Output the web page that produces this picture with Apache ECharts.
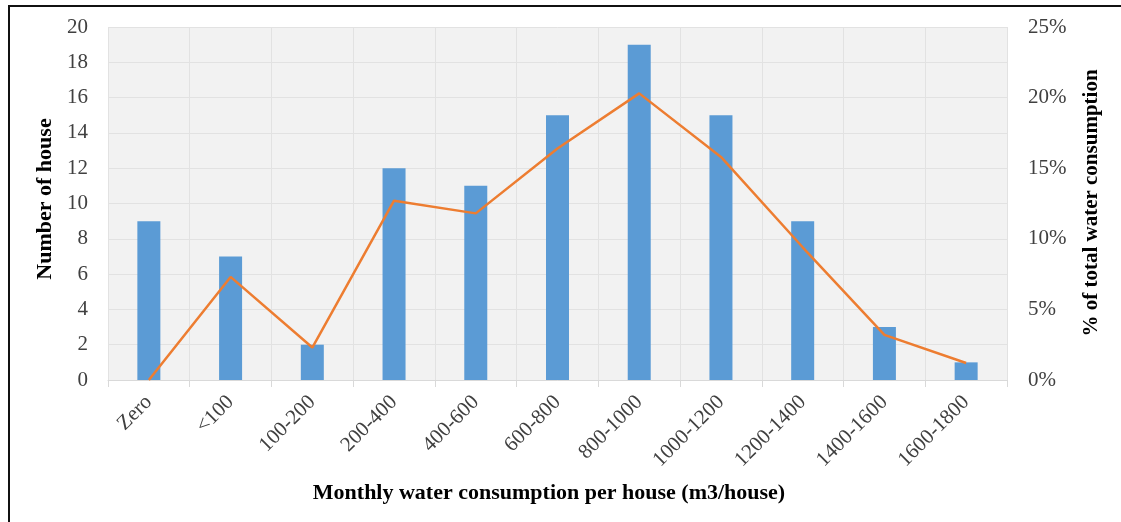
<!DOCTYPE html>
<html>
<head>
<meta charset="utf-8">
<script src="https://cdn.jsdelivr.net/npm/echarts@6/dist/echarts.min.js"></script>
<style>
  html, body { margin: 0; padding: 0; background: #fff; }
  #chart { width: 1121px; height: 522px; }
</style>
</head>
<body>
<div id="chart"></div>
<script>
// 月用水量分布
const categories = ['Zero', '<100', '100-200', '200-400', '400-600', '600-800',
    '800-1000', '1000-1200', '1200-1400', '1400-1600', '1600-1800'];
const houseCounts = [9, 7, 2, 12, 11, 15, 19, 15, 9, 3, 1];
const consumptionShare = [0, 7.3, 2.3, 12.7, 11.8, 16.4, 20.3, 15.8, 9.4, 3.2, 1.2];
const leftTicks = { min: 0, max: 20, interval: 2 };
const rightTicks = { min: 0, max: 25, interval: 5 };

const fontFamily = '"Liberation Serif", "Times New Roman", serif';

const chart = echarts.init(document.getElementById('chart'));

const option = {
    backgroundColor: '#ffffff',
    animation: false,
    grid: {
        left: 108,
        right: 114,
        top: 27,
        bottom: 142,
        show: true,
        backgroundColor: '#f2f2f2',
        borderWidth: 0
    },
    graphic: [
        {
            type: 'rect',
            shape: { x: 9, y: 6, width: 1200, height: 600 },
            style: { fill: 'none', stroke: '#111', lineWidth: 2 },
            silent: true
        },
        {
            type: 'text',
            x: 45,
            y: 199,
            rotation: Math.PI / 2,
            style: {
                text: 'Number of house',
                font: 'bold 22px ' + fontFamily,
                fill: '#000',
                align: 'center',
                verticalAlign: 'middle'
            }
        },
        {
            type: 'text',
            x: 1092,
            y: 203,
            rotation: Math.PI / 2,
            style: {
                text: '% of total water consumption',
                font: 'bold 21px ' + fontFamily,
                fill: '#000',
                align: 'center',
                verticalAlign: 'middle'
            }
        },
        {
            type: 'text',
            x: 549,
            y: 493,
            style: {
                text: 'Monthly water consumption per house (m3/house)',
                font: 'bold 22px ' + fontFamily,
                fill: '#000',
                align: 'center',
                verticalAlign: 'middle'
            }
        }
    ],
    xAxis: {
        type: 'category',
        data: categories,
        axisLine: { lineStyle: { color: '#d9d9d9', width: 1 } },
        axisTick: { show: true, length: 7, lineStyle: { color: '#d9d9d9' } },
        axisLabel: {
            rotate: 45,
            margin: 19,
            fontFamily: fontFamily,
            fontSize: 21,
            color: '#404040',
            interval: 0
        },
        splitLine: { show: true, lineStyle: { color: '#e2e2e2', width: 1 } }
    },
    yAxis: [
        {
            type: 'value',
            min: leftTicks.min,
            max: leftTicks.max,
            interval: leftTicks.interval,
            axisLine: { show: false },
            axisTick: { show: false },
            axisLabel: {
                margin: 20,
                fontFamily: fontFamily,
                fontSize: 21,
                color: '#404040'
            },
            splitLine: { show: true, lineStyle: { color: '#e2e2e2', width: 1 } }
        },
        {
            type: 'value',
            min: rightTicks.min,
            max: rightTicks.max,
            interval: rightTicks.interval,
            axisLine: { show: false },
            axisTick: { show: false },
            axisLabel: {
                margin: 21,
                formatter: '{value}%',
                fontFamily: fontFamily,
                fontSize: 21,
                color: '#404040'
            },
            splitLine: { show: false }
        }
    ],
    series: [
        {
            name: 'Number of house',
            type: 'bar',
            data: houseCounts,
            barWidth: 23,
            itemStyle: { color: '#5b9bd5' }
        },
        {
            name: '% of total water consumption',
            type: 'line',
            yAxisIndex: 1,
            data: consumptionShare,
            symbol: 'none',
            lineStyle: { color: '#ed7d31', width: 2.5 },
            z: 3
        }
    ]
};

chart.setOption(option);
</script>
</body>
</html>
